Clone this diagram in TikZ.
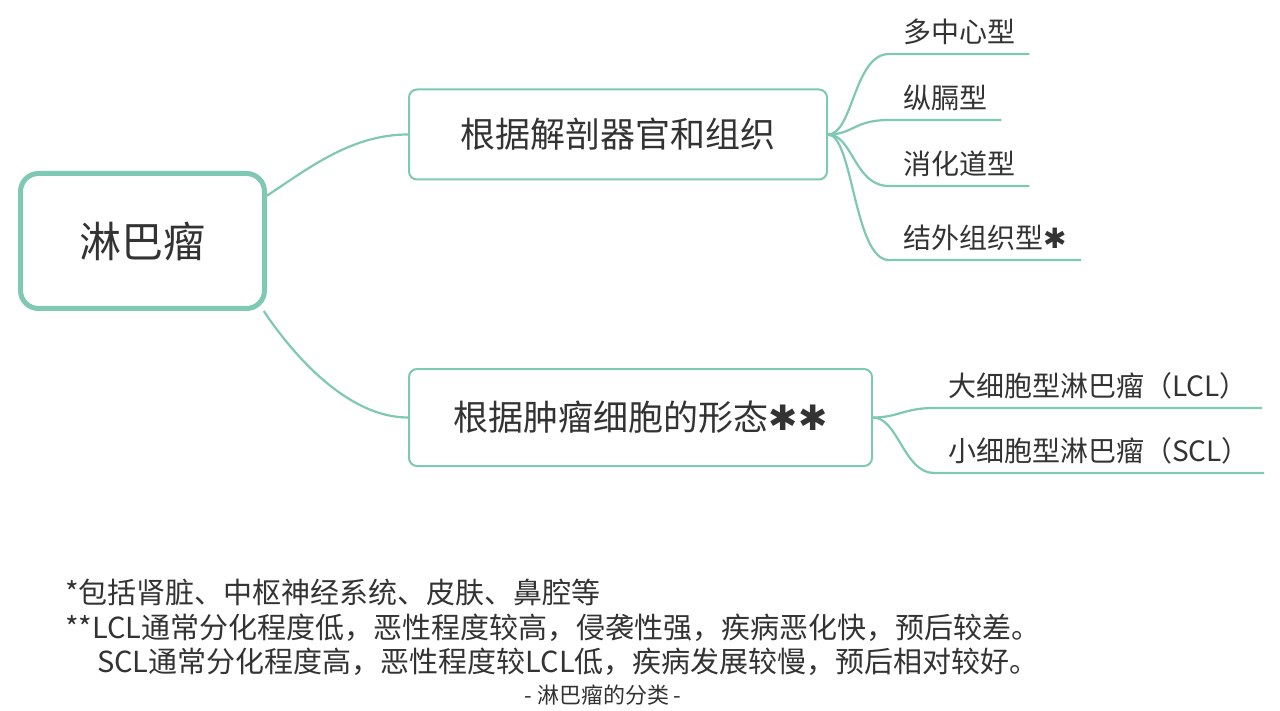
\documentclass[tikz,border=0pt]{standalone}
\usepackage{fontspec}
\setmainfont{Noto Sans CJK SC}
\newfontfamily\symfont{DejaVu Sans}
\usetikzlibrary{positioning}
\definecolor{mindteal}{HTML}{7FC8B4}
\definecolor{inkgrey}{HTML}{333333}
\newcommand{\heavyast}{{\symfont ✱}}
\tikzset{
  rootbox/.style={rectangle, rounded corners=18pt, minimum width=244pt, minimum height=135pt, align=center, draw=mindteal, line width=5pt, fill=white, text=inkgrey, font=\fontsize{42}{48}\selectfont},
  topicbox/.style={rectangle, rounded corners=8pt, minimum height=90pt, align=center, draw=mindteal, line width=2pt, fill=white, text=inkgrey, font=\fontsize{35}{40}\selectfont},
  branch/.style={draw=mindteal, line width=2.2pt}
}

\begin{document}
\begin{tikzpicture}[x=1pt, y=-1pt,
        leaf/.style={anchor=south west, inner xsep=14pt, inner ysep=7pt, text height=24pt, text depth=4pt, text=inkgrey, font=\fontsize{28}{32}\selectfont},
        note/.style={anchor=base west, inner sep=0pt, text=inkgrey, font=\fontsize{29}{34}\selectfont}]

        \fill[white] (0,0) rectangle (1280,711);
        \useasboundingbox (0,0) rectangle (1280,711);

        % Centro y ramas principales
        \node (root) [rootbox] at (142.5,241) {淋巴瘤};
        \node (organ) [topicbox, minimum width=418pt] at (618,134.5) {根据解剖器官和组织};
        \node (shape) [topicbox, minimum width=463pt, minimum height=97pt] at (640.5,417.5) {根据肿瘤细胞的形态\heavyast\heavyast};

        \draw [branch] (root.20) .. controls +(45,-30) and +(-55,0) .. (organ.west);
        \draw [branch] (root.-30) .. controls +(30,45) and +(-60,0) .. (shape.west);

        % Hojas - organos y tejidos
        \node (multi) [leaf] at (889,54) {多中心型};
        \node (medi) [leaf] at (889,120) {纵膈型};
        \node (gut) [leaf] at (889,186) {消化道型};
        \node (extra) [leaf] at (889,260) {结外组织型\heavyast};

        \draw [branch] (organ.east) .. controls +(25,0) and +(-35,0) .. (multi.south west) -- (multi.south east);
        \draw [branch] (organ.east) .. controls +(25,0) and +(-35,0) .. (medi.south west) -- (medi.south east);
        \draw [branch] (organ.east) .. controls +(25,0) and +(-35,0) .. (gut.south west) -- (gut.south east);
        \draw [branch] (organ.east) .. controls +(25,0) and +(-35,0) .. (extra.south west) -- (extra.south east);

        % Hojas - morfologia celular
        \node (large) [leaf] at (934,408) {大细胞型淋巴瘤（LCL）};
        \node (small) [leaf] at (934,473) {小细胞型淋巴瘤（SCL）};

        \draw [branch] (shape.east) .. controls +(25,0) and +(-30,0) .. (large.south west) -- (large.south east);
        \draw [branch] (shape.east) .. controls +(25,0) and +(-30,0) .. (small.south west) -- (small.south east);

        % Notas al pie
        \node (note1) [note] at (65,603) {*包括肾脏、中枢神经系统、皮肤、鼻腔等};
        \node (note2) [note] at (65,638) {**LCL通常分化程度低，恶性程度较高，侵袭性强，疾病恶化快，预后较差。};
        \node (note3) [note] at (97,672) {SCL通常分化程度高，恶性程度较LCL低，疾病发展较慢，预后相对较好。};
        \node (caption) [note, anchor=base, font=\fontsize{22}{26}\selectfont] at (603,703) {- 淋巴瘤的分类 -};

        \end{tikzpicture}
\end{document}
